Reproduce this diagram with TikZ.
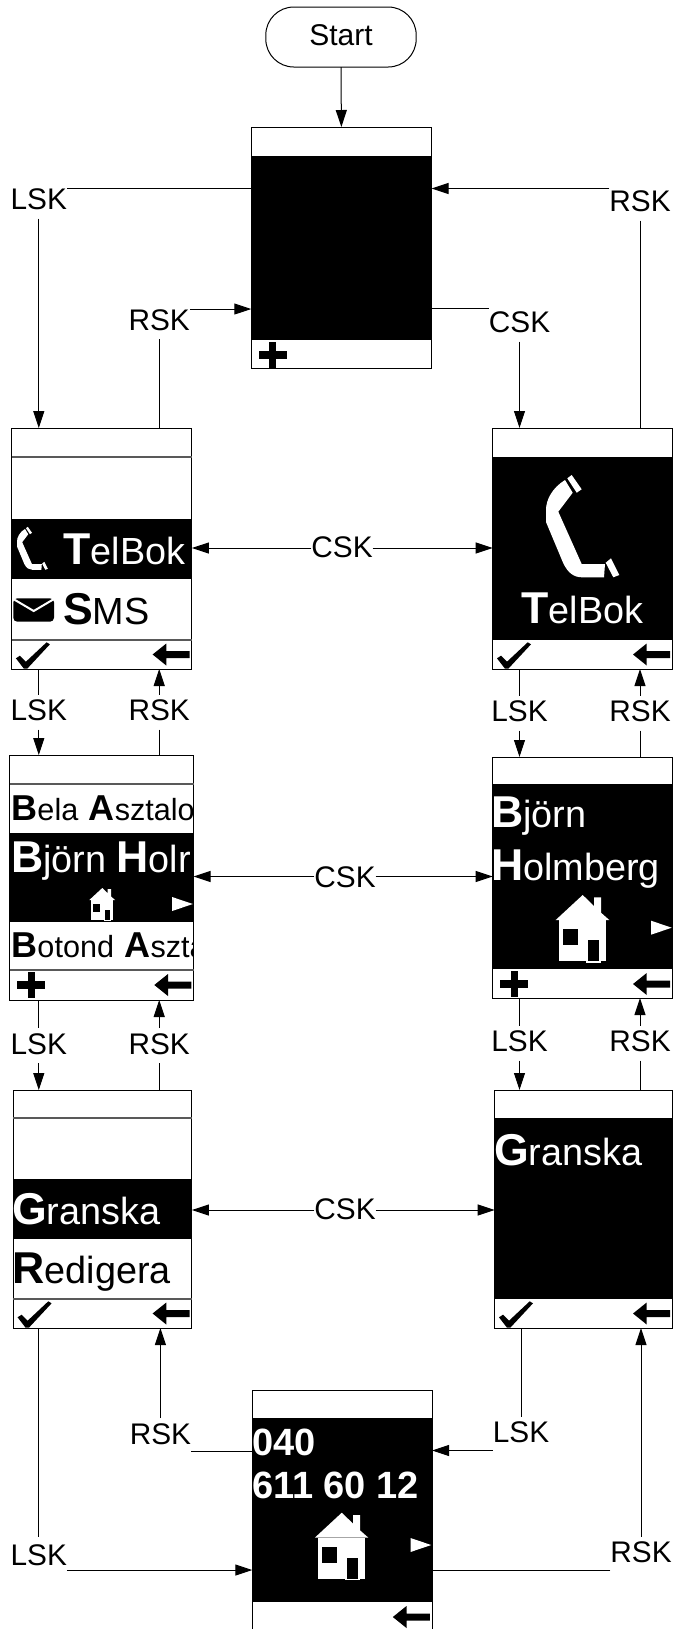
\documentclass[tikz,border=0pt]{standalone}
\usepackage{fontspec}
\setmainfont{Liberation Sans}
\usetikzlibrary{arrows.meta}
\newcommand{\bigname}[2]{{\fontsize{22.3}{26}\selectfont\bfseries #1}{\fontsize{18.9}{26}\selectfont #2}}
\newcommand{\smallname}[2]{{\fontsize{18}{22}\selectfont\bfseries #1}{\fontsize{15.3}{22}\selectfont #2}}
\tikzset{
  wire/.style={line width=.5pt},
  conn/.style={line width=.5pt,-{Triangle[length=8.5pt,width=5.5pt]}},
  keylabel/.style={inner sep=0pt,outer sep=0pt,text height=10.5pt,text depth=0pt,font=\fontsize{14.9}{16}\selectfont},
  screen/.style={draw,fill=white,line width=.5pt,inner sep=0pt,outer sep=0pt},
  scrtext/.style={anchor=base west,inner sep=0pt,outer sep=0pt,font=\fontsize{18.9}{24}\selectfont},
  divider/.style={line width=.8pt,black!65},
  phonemark/.pic={
    \fill[white] (35,20) .. controls (22,28) and (16,40) .. (16,50) -- (16,62) -- (33.3,103.3)
      .. controls (38,113) and (44,117.3) .. (52,117.3) -- (74,117.3) -- (75,104) -- (51.7,104)
      -- (28.3,51.7) -- (42.7,32.7) -- cycle;
    \fill[white] (41.7,15) -- (51.7,29.3) -- (46.7,32.7) -- (37.3,18.3) -- cycle;
    \fill[white] (81,98.3) -- (89.3,115) -- (83.3,117.3) -- (75.7,102.7) -- cycle;
  },
  housemark/.pic={
    \fill[white] (15.7,40) -- (42.7,15) -- (54,26) -- (54,17.3) -- (61,17.3) -- (61,32.7) -- (69.3,40) -- cycle;
    \fill[white] (19.3,40) rectangle (65.7,81);
    \fill[black] (23.3,49.3) rectangle (38,65.3);
    \fill[white] (46,58.7) rectangle (61,82.7);
    \fill[black] (47.7,60.3) rectangle (59.3,81);
  },
  nextmark/.pic={\fill[white] (0,0) -- (-20.7,-7) -- (-20.7,7) -- cycle;},
  backmark/.pic={\fill[black] (-39.3,0) -- (-25.6,-11) -- (-25.6,-3.5) -- (-2.3,-3.5) -- (-2.3,3.5) -- (-25.6,3.5) -- (-25.6,11) -- cycle;},
  tickmark/.pic={\fill[black] (4.3,18.3) -- (8.3,15.7) -- (14.3,21.7) -- (35,2.3) -- (38.3,4.3) -- (15.6,28.7) -- (12.3,28.7) -- cycle;},
  plusmark/.pic={\fill[black] (18,2) rectangle (25,27.7); \fill[black] (7.5,11) rectangle (35.5,18.7);},
  mailmark/.pic={
    \fill[black,rounded corners=2pt] (13.3,598.3) rectangle (54,621.7);
    \draw[white,line width=1pt] (13.3,599) -- (33.7,611) -- (54,599);
  },
}
\begin{document}
\begin{tikzpicture}[x=0.5pt,y=-0.5pt]
  \useasboundingbox (0,0) rectangle (676,1629);
  \node[draw,line width=.5pt,rounded corners=14pt,inner sep=0pt,outer sep=0pt,minimum width=75.2pt,minimum height=30pt,text height=10.5pt,text depth=2.5pt,font=\fontsize{15}{16}\selectfont] (start) at (341,37) {Start};
  % screens
  \node[screen,minimum width=90.1pt,minimum height=120.5pt] (scrTop) at (341.4,247.5) {};
  \node[screen,minimum width=90.15pt,minimum height=120.5pt] (scrPhoneA) at (101.75,548.5) {};
  \node[screen,minimum width=89.8pt,minimum height=120.5pt] (scrPhoneB) at (582.5,548.5) {};
  \node[screen,minimum width=92.05pt,minimum height=122.5pt] (scrNameA) at (101.55,877.5) {};
  \node[screen,minimum width=89.8pt,minimum height=120.5pt] (scrNameB) at (582.5,877.5) {};
  \node[screen,minimum width=89.3pt,minimum height=119pt] (scrItemA) at (102.6,1209) {};
  \node[screen,minimum width=88.8pt,minimum height=119pt] (scrItemB) at (583.5,1209) {};
  \node[screen,minimum width=89.9pt,minimum height=122pt] (scrNum) at (342.2,1512.7) {};
  % black areas
  \fill (251.3,156) rectangle (431.5,340);
  \fill (11.6,518.7) rectangle (191.9,579);
  \fill (492.7,457) rectangle (672.3,640);
  \fill (9.5,833) rectangle (193.6,922);
  \fill (492.7,784) rectangle (672.3,969);
  \fill (13.3,1179) rectangle (191.9,1239);
  \fill (494.7,1118) rectangle (672.3,1299);
  \fill (252.3,1418) rectangle (432.1,1602);
  % dividers on the white parts
  \draw[divider] (11.6,457)--(191.9,457) (11.6,640)--(191.9,640);
  \draw[divider] (9.5,784)--(193.6,784) (9.5,970)--(193.6,970);
  \draw[divider] (13.3,1118)--(191.9,1118) (13.3,1299)--(191.9,1299);
  % screen texts
  \node[scrtext,white] (txtTelA) at (63.7,564) {\bigname{T}{elBok}};
  \node[scrtext] (txtSms) at (63,624) {\bigname{S}{MS}};
  \node[scrtext,white] (txtTelB) at (521.5,623) {\bigname{T}{elBok}};
  \begin{scope}
    \clip (9.5,784) rectangle (193.6,970);
    \node[scrtext] (txtBela) at (11.5,820) {\smallname{B}{ela} \smallname{A}{sztalo}};
    \node[scrtext,white] (txtHolA) at (11,872.7) {\bigname{B}{jörn} \bigname{H}{olr}};
    \node[scrtext] (txtBotond) at (11.5,957.7) {\smallname{B}{otond} \smallname{A}{szta}};
  \end{scope}
  \node[scrtext,white] (txtBjorn) at (491,827) {\bigname{B}{jörn}};
  \node[scrtext,white] (txtHolB) at (491,880) {\bigname{H}{olmberg}};
  \node[scrtext,white] (txtGraA) at (12,1224) {\bigname{G}{ranska}};
  \node[scrtext] (txtRed) at (12.5,1283) {\bigname{R}{edigera}};
  \node[scrtext,white] (txtGraB) at (494,1165) {\bigname{G}{ranska}};
  \node[scrtext,white,font=\fontsize{19}{24}\selectfont\bfseries] (txtNumA) at (252,1455) {040};
  \node[scrtext,white,font=\fontsize{19}{24}\selectfont\bfseries] (txtNumB) at (252,1498.3) {611 60 12};
  % icons
  \pic[scale=.42] at (10.3,520.5) {phonemark};
  \pic at (530,460) {phonemark};
  \pic at (0,0) {mailmark};
  \pic[scale=.48] at (81.8,880.8) {housemark};
  \pic at (540,880) {housemark};
  \pic at (299.1,1497.7) {housemark};
  \pic at (192.8,904) {nextmark};
  \pic at (671.7,927.7) {nextmark};
  \pic at (431.2,1545) {nextmark};
  % soft keys
  \pic at (251.3,340) {plusmark};
  \pic at (9.5,970) {plusmark};
  \pic at (492.7,969) {plusmark};
  \pic at (11.6,640) {tickmark};
  \pic at (492.7,640) {tickmark};
  \pic at (13.3,1299) {tickmark};
  \pic at (494.7,1299) {tickmark};
  \pic at (191.9,654.5) {backmark};
  \pic at (672.3,654.5) {backmark};
  \pic at (193.6,985) {backmark};
  \pic at (672.3,984) {backmark};
  \pic at (191.9,1313.5) {backmark};
  \pic at (672.3,1313.5) {backmark};
  \pic at (432.1,1617) {backmark};
  % key labels
  \node[keylabel] (lskA) at (38.8,199) {LSK};
  \node[keylabel] (rskA) at (640,201) {RSK};
  \node[keylabel] (rskB) at (159.2,319.5) {RSK};
  \node[keylabel] (cskA) at (519.5,322) {CSK};
  \node[keylabel] (cskB) at (342,547) {CSK};
  \node[keylabel] (lskC) at (38.8,710) {LSK};
  \node[keylabel] (rskC) at (159.2,710) {RSK};
  \node[keylabel] (lskD) at (519.5,711) {LSK};
  \node[keylabel] (rskD) at (640,711) {RSK};
  \node[keylabel] (cskC) at (345,876.5) {CSK};
  \node[keylabel] (lskE) at (38.8,1043.5) {LSK};
  \node[keylabel] (rskE) at (159.2,1043.5) {RSK};
  \node[keylabel] (lskF) at (519.5,1041) {LSK};
  \node[keylabel] (rskF) at (640,1041) {RSK};
  \node[keylabel] (cskD) at (345,1209) {CSK};
  \node[keylabel] (rskG) at (160.4,1433.5) {RSK};
  \node[keylabel] (lskH) at (521,1432) {LSK};
  \node[keylabel] (lskJ) at (38.8,1554.5) {LSK};
  \node[keylabel] (rskJ) at (641,1552) {RSK};
  % top screen
  \draw[conn] (start.south) -- (scrTop.north);
  \draw[wire] (lskA.north east) -- (lskA.north east -| scrTop.west);
  \draw[conn,shorten <=4.5pt] (lskA.south) -- (lskA.south |- scrPhoneA.north);
  \draw[conn] ([yshift=1pt]rskA.north west) -- ([yshift=1pt]rskA.north west -| scrTop.east);
  \draw[wire,shorten <=4.5pt] (rskA.south) -- (rskA.south |- scrPhoneB.north);
  \draw[conn] (rskB.north east) -- (rskB.north east -| scrTop.west);
  \draw[wire,shorten <=4.5pt] (rskB.south) -- (rskB.south |- scrPhoneA.north);
  \draw[wire] ([yshift=1.5pt]cskA.north west) -- ([yshift=1.5pt]cskA.north west -| scrTop.east);
  \draw[conn,shorten <=4.5pt] (cskA.south) -- (cskA.south |- scrPhoneB.north);
  % centre key, left and right column
  \draw[conn] ([yshift=-.5pt]cskB.west) -- ([yshift=-.5pt]cskB.west -| scrPhoneA.east);
  \draw[conn] ([yshift=-.5pt]cskB.east) -- ([yshift=-.5pt]cskB.east -| scrPhoneB.west);
  \draw[conn] (cskC.west) -- (cskC.west -| scrNameA.east);
  \draw[conn] (cskC.east) -- (cskC.east -| scrNameB.west);
  \draw[conn] ([yshift=-.5pt]cskD.west) -- ([yshift=-.5pt]cskD.west -| scrItemA.east);
  \draw[conn] ([yshift=-.5pt]cskD.east) -- ([yshift=-.5pt]cskD.east -| scrItemB.west);
  % soft keys, phone book to names
  \draw[wire,shorten >=2.5pt] (lskC.north |- scrPhoneA.south) -- (lskC.north);
  \draw[conn,shorten <=4.5pt] (lskC.south) -- (lskC.south |- scrNameA.north);
  \draw[conn,shorten <=2.5pt] (rskC.north) -- (rskC.north |- scrPhoneA.south);
  \draw[wire,shorten <=4.5pt] (rskC.south) -- (rskC.south |- scrNameA.north);
  \draw[wire,shorten >=2.5pt] (lskD.north |- scrPhoneB.south) -- (lskD.north);
  \draw[conn,shorten <=4.5pt] (lskD.south) -- (lskD.south |- scrNameB.north);
  \draw[conn,shorten <=2.5pt] (rskD.north) -- (rskD.north |- scrPhoneB.south);
  \draw[wire,shorten <=4.5pt] (rskD.south) -- (rskD.south |- scrNameB.north);
  % soft keys, names to items
  \draw[wire,shorten >=2.5pt] (lskE.north |- scrNameA.south) -- (lskE.north);
  \draw[conn,shorten <=4.5pt] (lskE.south) -- (lskE.south |- scrItemA.north);
  \draw[conn,shorten <=2.5pt] (rskE.north) -- (rskE.north |- scrNameA.south);
  \draw[wire,shorten <=4.5pt] (rskE.south) -- (rskE.south |- scrItemA.north);
  \draw[wire,shorten >=2.5pt] (lskF.north |- scrNameB.south) -- (lskF.north);
  \draw[conn,shorten <=4.5pt] (lskF.south) -- (lskF.south |- scrItemB.north);
  \draw[conn,shorten <=2.5pt] (rskF.north) -- (rskF.north |- scrNameB.south);
  \draw[wire,shorten <=4.5pt] (rskF.south) -- (rskF.south |- scrItemB.north);
  % number screen
  \draw[conn,shorten <=2.5pt] (rskG.north) -- (rskG.north |- scrItemA.south);
  \draw[wire] ([yshift=-3.5pt]rskG.south east) -- ([yshift=-3.5pt]rskG.south east -| scrNum.west);
  \draw[wire,shorten >=2.5pt] (lskH.north |- scrItemB.south) -- (lskH.north);
  \draw[conn] ([yshift=-4pt]lskH.south west) -- ([yshift=-4pt]lskH.south west -| scrNum.east);
  \draw[wire,shorten >=3.5pt] (lskJ.north |- scrItemA.south) -- (lskJ.north);
  \draw[conn] ([yshift=-2.5pt]lskJ.south east) -- ([yshift=-2.5pt]lskJ.south east -| scrNum.west);
  \draw[conn,shorten <=2.5pt] (rskJ.north) -- (rskJ.north |- scrItemB.south);
  \draw[wire] ([yshift=-4pt]rskJ.south west) -- ([yshift=-4pt]rskJ.south west -| scrNum.east);
\end{tikzpicture}
\end{document}
